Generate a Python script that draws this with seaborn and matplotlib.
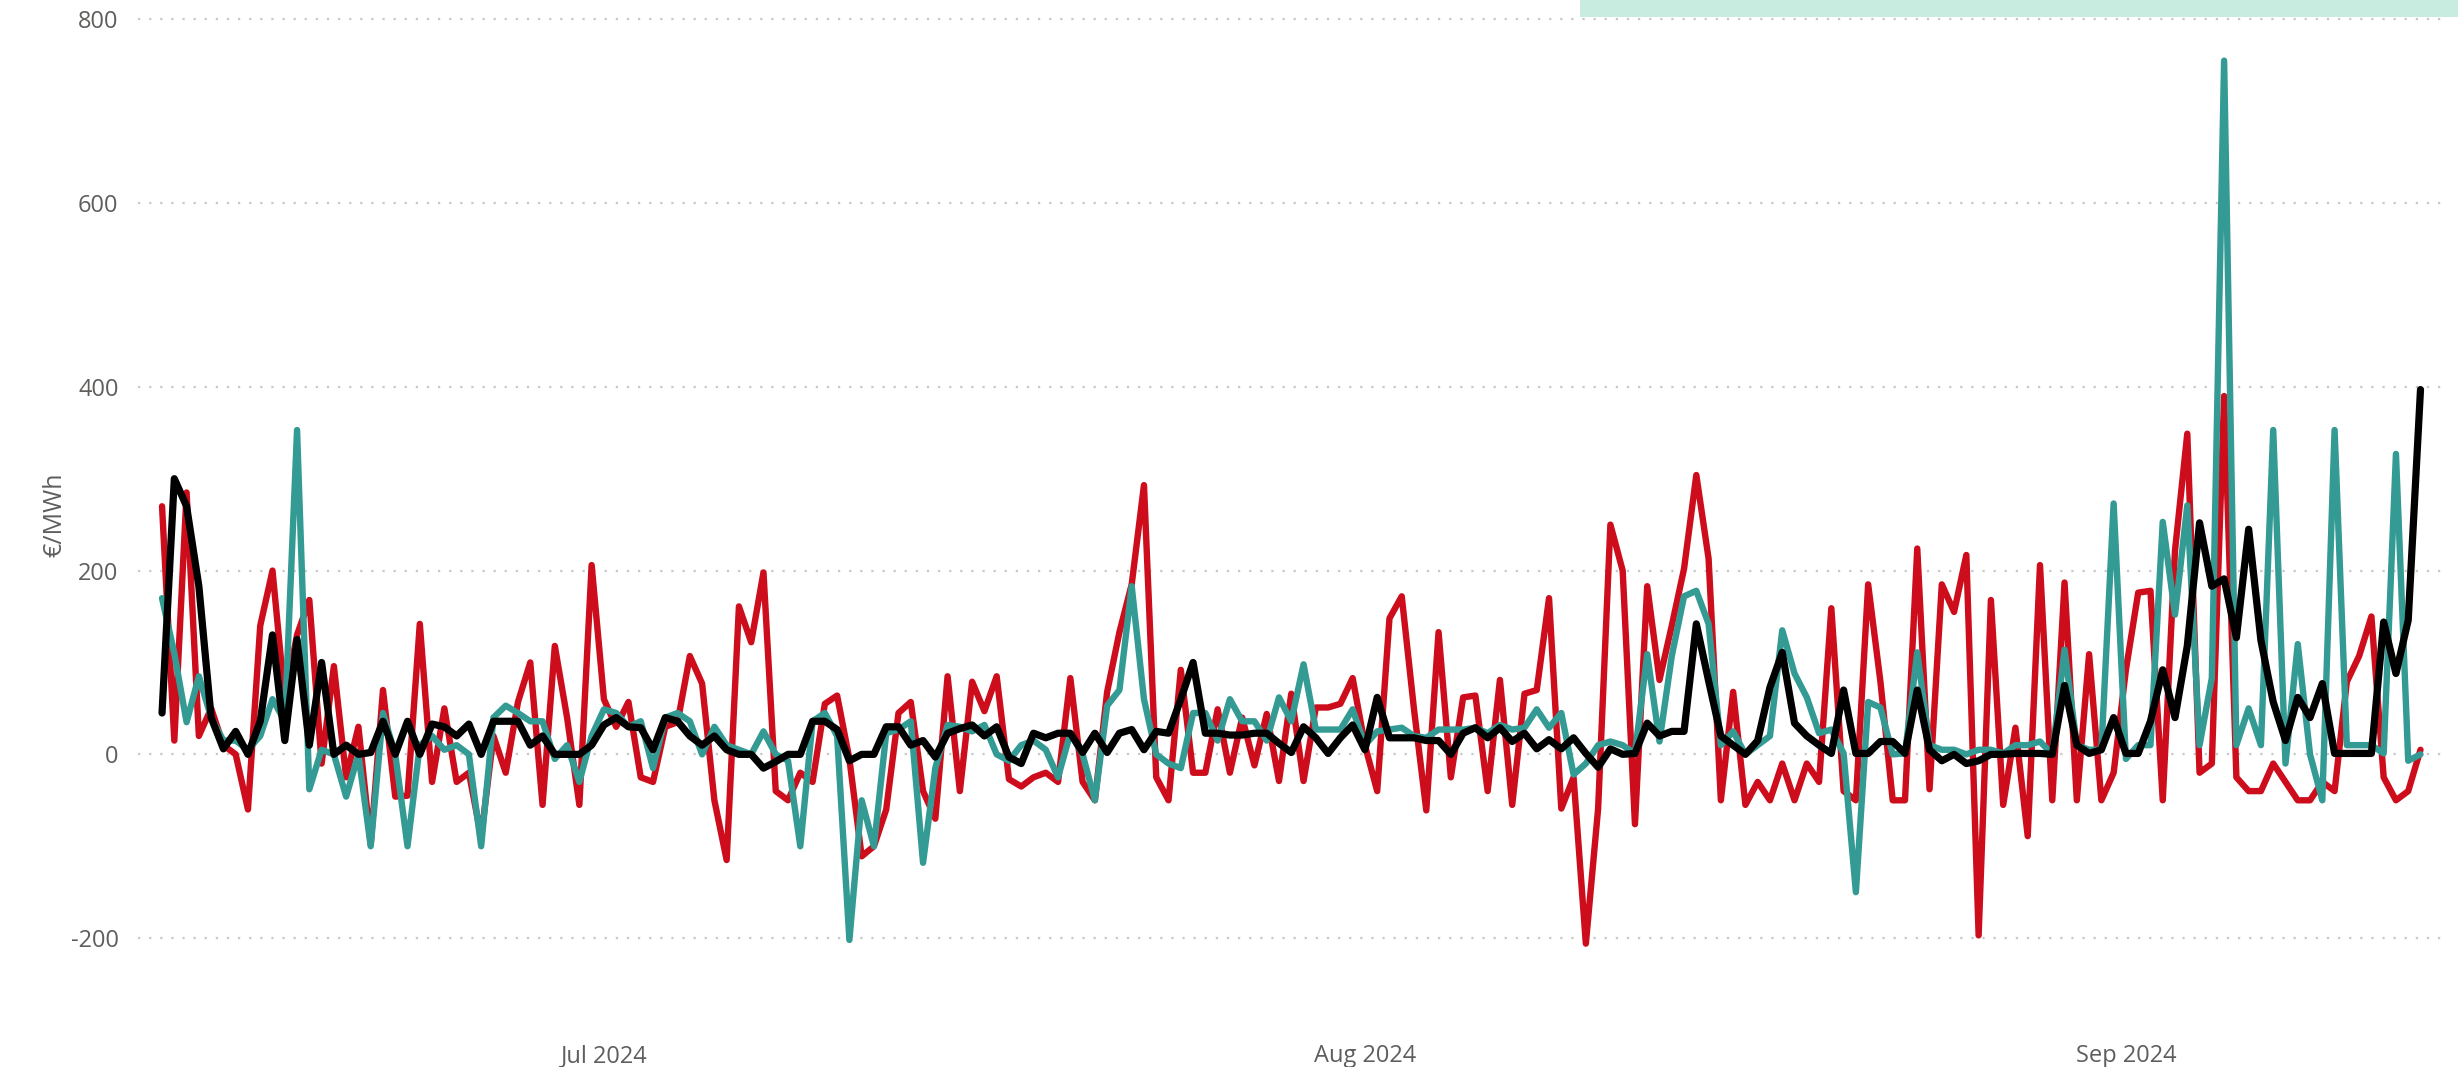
"""Half-daily price series, Jun - Sep 2024, three overlaid lines in EUR/MWh."""

import matplotlib
matplotlib.use("Agg")
import matplotlib.dates as mdates
import matplotlib.pyplot as plt
from matplotlib.patches import Rectangle
import pandas as pd
import seaborn as sns

# one value every 12 h, starting 2024-06-13 00:00
START = "2024-06-13"

red_vals = [
    270, 15, 285, 20, 50, 10, 0, -60, 140, 200,
    60, 130, 168, -10, 96, -25, 30, -98, 70, -46,
    -45, 142, -30, 50, -30, -20, -90, 20, -20, 57,
    100, -55, 118, 40, -55, 206, 60, 30, 57, -25,
    -30, 30, 35, 107, 77, -50, -115, 161, 122, 198,
    -40, -50, -20, -30, 55, 64, -5, -111, -100, -60,
    45, 57, -40, -70, 85, -40, 79, 47, 85, -27,
    -35, -25, -20, -30, 83, -30, -50, 68, 133, 185,
    293, -25, -50, 92, -20, -20, 49, -20, 40, -12,
    44, -29, 66, -29, 51, 51, 55, 83, 10, -40,
    148, 172, 49, -61, 133, -25, 62, 64, -40, 81,
    -55, 66, 70, 170, -59, -25, -206, -59, 250, 200,
    -76, 183, 81, 140, 202, 304, 213, -50, 68, -55,
    -30, -50, -10, -50, -10, -30, 159, -40, -50, 185,
    79, -50, -50, 224, -38, 185, 155, 217, -197, 168,
    -55, 29, -89, 206, -50, 187, -50, 109, -50, -20,
    92, 176, 178, -50, 222, 349, -20, -10, 390, -25,
    -40, -40, -10, -30, -50, -50, -30, -40, 79, 107,
    150, -25, -50, -40, 5,
]

teal_vals = [
    170, 110, 35, 85, 40, 15, 15, 5, 20, 60,
    36, 353, -38, 5, 0, -46, 0, -100, 45, 0,
    -100, 10, 20, 5, 10, 0, -100, 40, 53, 45,
    36, 36, -5, 10, -30, 20, 49, 45, 30, 36,
    -15, 40, 45, 36, 0, 30, 10, 5, 0, 25,
    0, -7, -100, 36, 45, 20, -202, -50, -100, 23,
    27, 36, -118, -15, 32, 30, 25, 32, 0, -7,
    10, 15, 5, -25, 23, 0, -50, 53, 70, 183,
    60, 0, -10, -15, 45, 45, 15, 60, 36, 36,
    15, 62, 36, 98, 27, 27, 27, 49, 10, 25,
    27, 29, 20, 18, 27, 27, 27, 29, 23, 32,
    27, 29, 49, 29, 45, -22, -10, 10, 14, 10,
    1, 109, 14, 107, 172, 178, 142, 10, 25, 0,
    10, 20, 135, 88, 62, 23, 27, 1, -150, 57,
    51, 0, 1, 111, 10, 5, 5, 0, 5, 5,
    1, 10, 10, 14, 0, 114, 10, 5, 5, 273,
    -5, 10, 10, 253, 152, 271, 10, 83, 755, 10,
    50, 10, 353, -10, 120, 0, -50, 353, 10, 10,
    10, 1, 327, -7, 0,
]

black_vals = [
    45, 300, 270, 183, 40, 6, 25, 0, 36, 130,
    15, 125, 10, 100, 0, 10, 0, 2, 36, 0,
    36, 0, 33, 30, 20, 33, 0, 36, 36, 36,
    10, 20, 0, 0, 0, 10, 32, 40, 30, 29,
    5, 40, 36, 20, 10, 20, 5, 0, 0, -15,
    -8, 0, 0, 36, 36, 27, -7, 0, 0, 30,
    30, 10, 15, -3, 23, 28, 32, 20, 30, -3,
    -10, 23, 18, 23, 23, 2, 23, 2, 23, 27,
    5, 25, 23, 60, 100, 23, 23, 21, 21, 23,
    23, 12, 2, 30, 18, 1, 18, 32, 5, 62,
    18, 18, 18, 15, 15, 0, 23, 29, 18, 29,
    14, 23, 6, 16, 6, 18, 1, -14, 6, 0,
    1, 34, 20, 25, 25, 142, 80, 20, 10, 0,
    15, 73, 111, 34, 20, 10, 1, 70, 1, 1,
    14, 14, 1, 70, 5, -7, 0, -10, -7, 0,
    0, 1, 1, 1, 0, 75, 10, 1, 5, 40,
    1, 1, 36, 92, 40, 118, 252, 183, 191, 127,
    245, 124, 57, 15, 62, 40, 77, 1, 1, 1,
    1, 144, 88, 146, 397,
]

y_ticks = [-200, 0, 200, 400, 600, 800]
y_label = "€/MWh"

COLORS = {"red": "#CD0C1C", "teal": "#349A94", "black": "#000000"}
WIDTHS = {"red": 2.3, "teal": 2.3, "black": 2.6}
TEXT_GREY = "#605E5C"
FONT = ["Open Sans", "DejaVu Sans"]

W, H, DPI = 2458, 1067, 200


def _frame() -> pd.DataFrame:
    times = pd.date_range(START, periods=len(red_vals), freq="12h")
    parts = []
    for name, vals in (("red", red_vals), ("teal", teal_vals), ("black", black_vals)):
        parts.append(pd.DataFrame({"time": times, "value": vals, "series": name}))
    return pd.concat(parts, ignore_index=True)


def main() -> None:
    sns.set_theme(style="white")
    plt.rcParams["font.family"] = FONT
    plt.rcParams["axes.unicode_minus"] = False

    df = _frame()
    fig = plt.figure(figsize=(W / DPI, H / DPI), dpi=DPI)
    # axes box in pixels: left 138, right 2443, top 0, bottom 1030
    ax = fig.add_axes([138 / W, 37 / H, (2443 - 138) / W, 1030 / H])

    for name in ("red", "teal", "black"):
        sns.lineplot(
            data=df[df["series"] == name], x="time", y="value",
            color=COLORS[name], linewidth=WIDTHS[name], ax=ax, legend=False,
        )

    ax.set_ylim(-300, 821)
    ax.set_yticks(y_ticks)
    ax.set_xlim(pd.Timestamp("2024-06-12 00:30"), pd.Timestamp("2024-09-13 22:00"))
    ax.xaxis.set_major_locator(mdates.MonthLocator())
    ax.xaxis.set_major_formatter(mdates.DateFormatter("%b %Y"))

    ax.yaxis.grid(True, color="#C8C8C8", linewidth=0.8, linestyle=(0, (1, 4)))
    ax.xaxis.grid(False)
    for sp in ax.spines.values():
        sp.set_visible(False)

    ax.tick_params(axis="both", length=0, labelsize=8.5, labelcolor=TEXT_GREY)
    ax.tick_params(axis="x", pad=5)
    ax.tick_params(axis="y", pad=7)
    ax.set_xlabel("")
    ax.set_ylabel(y_label, fontsize=9, color=TEXT_GREY, labelpad=1)

    # header strip cut off at the top right
    fig.patches.append(Rectangle(
        (1580 / W, 1 - 17 / H), 1, 17 / H, transform=fig.transFigure,
        facecolor="#C8ECE0", edgecolor="none", zorder=5,
    ))

    fig.savefig("out.png", dpi=DPI)
    plt.close(fig)


if __name__ == "__main__":
    main()
